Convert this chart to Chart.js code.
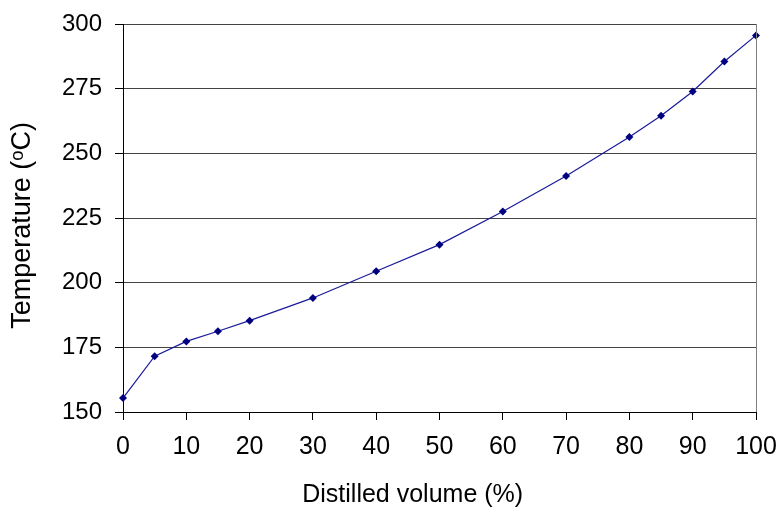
<!DOCTYPE html>
<html>
<head>
<meta charset="utf-8">
<script src="https://cdn.jsdelivr.net/npm/chart.js@4/dist/chart.umd.min.js"></script>
<style>
html,body{margin:0;padding:0;background:#fff;}
#wrap{width:779px;height:507px;position:relative;}
</style>
</head>
<body>
<div id="wrap"><canvas id="c" width="779" height="507"></canvas></div>
<script>
const distilledVolume = [0, 5, 10, 15, 20, 30, 40, 50, 60, 70, 80, 85, 90, 95, 100];
const temperature = [155.4, 171.6, 177.3, 181.2, 185.3, 194.1, 204.4, 214.7, 227.5, 241.2, 256.3, 264.5, 273.9, 285.5, 295.6];
const xTicks = [0, 10, 20, 30, 40, 50, 60, 70, 80, 90, 100];
const yTicks = [150, 175, 200, 225, 250, 275, 300];
const xTitle = 'Distilled volume (%)';
const yTitle = 'Temperature (ᵒC)';

const points = distilledVolume.map((x, i) => ({x: x, y: temperature[i]}));
const FONT = "'Liberation Sans', Arial, sans-serif";
// trailing non-breaking spaces shift the centred titles to match the reference placement
const NB = '\u00A0';

const rightBorder = {
  id: 'rightBorder',
  afterDraw(chart) {
    const a = chart.chartArea, ctx = chart.ctx;
    ctx.save();
    ctx.strokeStyle = '#808080';
    ctx.lineWidth = 1;
    ctx.beginPath();
    ctx.moveTo(Math.round(a.right) + 0.5, a.top);
    ctx.lineTo(Math.round(a.right) + 0.5, a.bottom);
    ctx.stroke();
    ctx.restore();
  }
};

new Chart(document.getElementById('c'), {
  type: 'line',
  data: {
    datasets: [{
      data: points,
      borderColor: '#1a1a99',
      backgroundColor: '#000080',
      borderWidth: 1.2,
      pointStyle: 'rectRot',
      pointRadius: 4,
      pointBorderWidth: 0,
      tension: 0,
      fill: false,
      clip: false
    }]
  },
  options: {
    responsive: false,
    animation: false,
    layout: {padding: {top: 24, right: 23, left: 0, bottom: 0}},
    plugins: {legend: {display: false}, tooltip: {enabled: false}},
    scales: {
      x: {
        type: 'linear',
        min: 0, max: 100,
        afterBuildTicks(s) { s.ticks = xTicks.map(v => ({value: v})); },
        afterFit(s) { s.height = 95; s.paddingLeft = 0; s.paddingRight = 0; },
        grid: {drawOnChartArea: false, drawTicks: true, tickLength: 8, color: '#000'},
        border: {color: '#000', width: 1},
        ticks: {color: '#000', font: {family: FONT, size: 25}, padding: 12, maxRotation: 0},
        title: {display: true, text: xTitle + NB.repeat(7) + '\u2009', color: '#000', font: {family: FONT, size: 25, lineHeight: 1}, padding: {top: 4, bottom: -1}}
      },
      y: {
        min: 150, max: 300,
        afterBuildTicks(s) { s.ticks = yTicks.map(v => ({value: v})); },
        afterFit(s) { s.width = 123; s.paddingTop = 0; s.paddingBottom = 0; },
        grid: {color: '#444', lineWidth: 1, drawTicks: true, tickLength: 8, tickColor: '#000'},
        border: {color: '#000', width: 1},
        ticks: {color: '#000', font: {family: FONT, size: 24}, padding: 13},
        title: {display: true, text: yTitle + NB + NB, color: '#000', font: {family: FONT, size: 27, lineHeight: 1}, padding: {top: 9, bottom: 0}}
      }
    }
  },
  plugins: [rightBorder]
});
</script>
</body>
</html>
